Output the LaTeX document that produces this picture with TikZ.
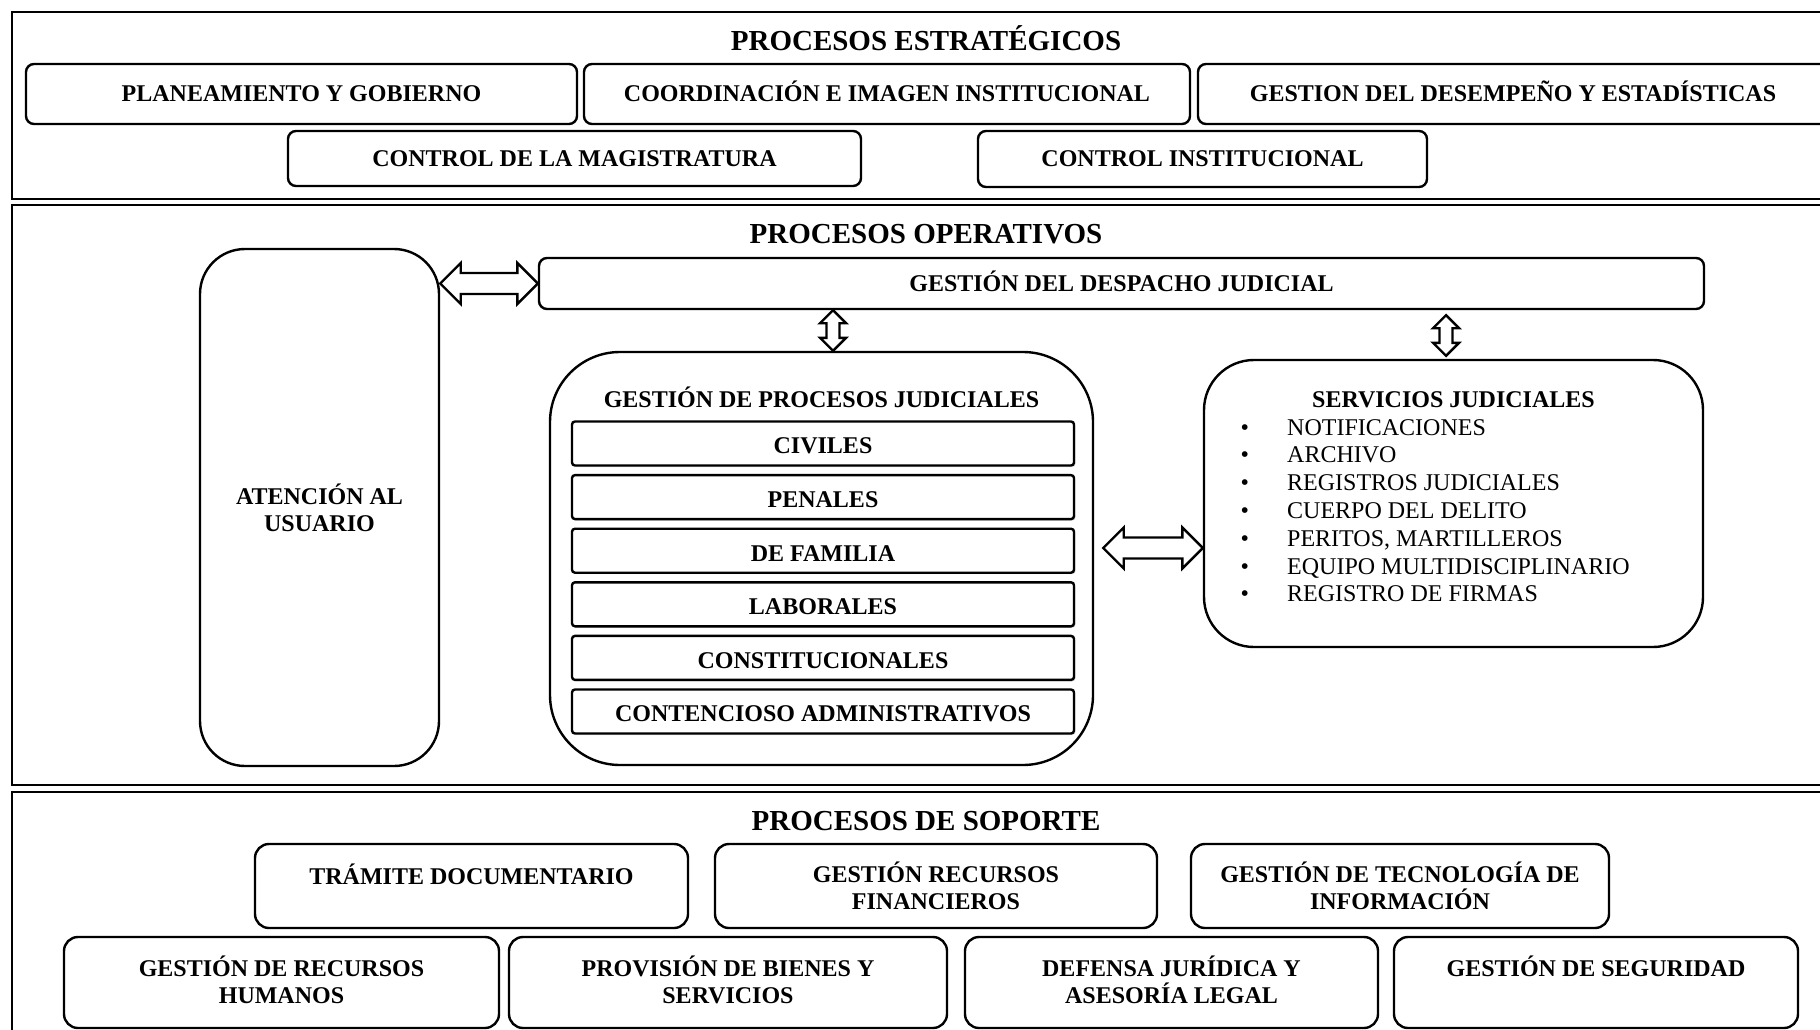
\documentclass[tikz,border=0pt]{standalone}
\usepackage{fontspec}
\setmainfont{Liberation Serif}
\usetikzlibrary{positioning,shadows,calc}

\newcommand{\fatarrow}[4]{%
  \draw [arrowline] let \p1=(#1), \p2=(#2), \n1={atan2(\y2-\y1,\x2-\x1)}, \n2={veclen(\x2-\x1,\y2-\y1)} in
    [shift={(\p1)}, rotate=\n1] (0,0) -- (#4,#4) -- (#4,#3) -- (\n2-#4,#3) -- (\n2-#4,#4) -- (\n2,0)
    -- (\n2-#4,-#4) -- (\n2-#4,-#3) -- (#4,-#3) -- (#4,-#4) -- cycle;}

\begin{document}
\begin{tikzpicture}[x=1pt,y=1pt]
	\tikzstyle{every node}+=[inner sep=0pt]
	\tikzstyle{frame}=[draw, line width=2.4pt]
	\tikzstyle{title}=[font=\fontsize{29}{34}\selectfont\bfseries, text height=19pt, text depth=0pt]
	\tikzstyle{boldtext}=[font=\fontsize{24}{27}\selectfont\bfseries]
	\tikzstyle{listtext}=[font=\fontsize{24}{27.8}\selectfont, align=left]
	\tikzstyle{box}=[draw, line width=2.4pt, rounded corners=8pt, align=center, font=\fontsize{24}{27}\selectfont\bfseries]
	\tikzstyle{oneline}=[text height=16pt, text depth=0pt]
	\tikzstyle{sbox}=[box, rounded corners=14pt]
	\tikzstyle{lowrow}=[sbox, minimum height=91pt, text depth=6pt]
	\tikzstyle{subbox}=[box, text height=20.6pt, text depth=0pt, rounded corners=3pt, fill=white, minimum width=502pt, minimum height=44pt,
		drop shadow={shadow xshift=1.5pt, shadow yshift=-1.5pt, opacity=0.25}]
	\tikzstyle{arrowline}=[draw, line width=2.4pt, fill=white, line join=miter]
	\clip (0,0) rectangle (1820,-1030);
	\draw [frame] (12,-12) rectangle (1840,-199);
	\draw [frame] (12,-205) rectangle (1840,-785);
	\draw [frame] (12,-792) rectangle (1840,-1045);
	\node [title] (estr) at (926,-41) {PROCESOS ESTRATÉGICOS};
	\node [box, oneline, minimum width=551pt, minimum height=60pt] (plan) at (301.5,-94) {PLANEAMIENTO Y GOBIERNO};
	\node [box, oneline, minimum width=606pt, minimum height=60pt] (coord) at (887,-94) {COORDINACIÓN E IMAGEN INSTITUCIONAL};
	\node [box, oneline, minimum width=630pt, minimum height=60pt] (desemp) at (1513,-94) {GESTION DEL DESEMPEÑO Y ESTADÍSTICAS};
	\node [box, oneline, minimum width=573pt, minimum height=55pt] (ctrlmag) at (574.5,-158.5) {CONTROL DE LA MAGISTRATURA};
	\node [box, oneline, minimum width=449pt, minimum height=56pt] (ctrlinst) at (1202.5,-159) {CONTROL INSTITUCIONAL};
	\node [title] (oper) at (926,-234) {PROCESOS OPERATIVOS};
	\node [box, rounded corners=45pt, minimum width=239pt, minimum height=517pt] (aten) at (319.5,-507.5) {ATENCIÓN AL\\USUARIO};
	\node [box, oneline, minimum width=1165pt, minimum height=51pt] (desp) at (1121.5,-283.5) {GESTIÓN DEL DESPACHO JUDICIAL};
	\node [box, rounded corners=70pt, minimum width=543pt, minimum height=413pt] (gpj) at (821.5,-558.5) {};
	\node [boldtext] (gpjtitle) at (821.5,-397) {GESTIÓN DE PROCESOS JUDICIALES};
	\node [subbox] (civ) at (823,-443.5) {CIVILES};
	\node [subbox, below=7.2pt of civ] (pen) {PENALES};
	\node [subbox, below=7.2pt of pen] (fam) {DE FAMILIA};
	\node [subbox, below=7.2pt of fam] (lab) {LABORALES};
	\node [subbox, below=7.2pt of lab] (const) {CONSTITUCIONALES};
	\node [subbox, below=7.2pt of const] (cont) {CONTENCIOSO ADMINISTRATIVOS};
	\node [box, rounded corners=50pt, minimum width=499pt, minimum height=287pt] (serv) at (1453.5,-503.5) {};
	\node [boldtext] (servtitle) at (1453.5,-400) {SERVICIOS JUDICIALES};
	\node [listtext, anchor=base west] (servlist) at (1240.5,-601.8) {%
		\makebox[46.5pt][l]{\textbullet}NOTIFICACIONES\\
		\makebox[46.5pt][l]{\textbullet}ARCHIVO\\
		\makebox[46.5pt][l]{\textbullet}REGISTROS JUDICIALES\\
		\makebox[46.5pt][l]{\textbullet}CUERPO DEL DELITO\\
		\makebox[46.5pt][l]{\textbullet}PERITOS, MARTILLEROS\\
		\makebox[46.5pt][l]{\textbullet}EQUIPO MULTIDISCIPLINARIO\\
		\makebox[46.5pt][l]{\textbullet}REGISTRO DE FIRMAS};
	\coordinate (a1) at (aten.east |- desp.west);
	\coordinate (a2) at (desp.west);
	\coordinate (b1) at ([xshift=11.5pt]gpj.north |- desp.south);
	\coordinate (b2) at ([xshift=11.5pt]gpj.north);
	\coordinate (c1) at ([xshift=-7.5pt,yshift=-5pt]serv.north |- desp.south);
	\coordinate (c2) at ([xshift=-7.5pt,yshift=3pt]serv.north);
	\coordinate (d1) at ([xshift=9pt,yshift=10.5pt]gpj.east);
	\coordinate (d2) at (serv.west |- d1);
	\fatarrow{a1}{a2}{10.5}{20.5}
	\fatarrow{b1}{b2}{6.5}{13}
	\fatarrow{c1}{c2}{6.5}{13}
	\fatarrow{d1}{d2}{10.5}{20.5}
	\node [title] (sop) at (926,-821) {PROCESOS DE SOPORTE};
	\node [sbox, minimum width=433pt, minimum height=84pt] (tram) at (471.5,-886) {TRÁMITE DOCUMENTARIO\\[-12pt]\strut};
	\node [sbox, minimum width=442pt, minimum height=84pt] (fin) at (936,-886) {GESTIÓN RECURSOS\\FINANCIEROS};
	\node [sbox, minimum width=418pt, minimum height=84pt] (tec) at (1400,-886) {GESTIÓN DE TECNOLOGÍA DE\\INFORMACIÓN};
	\node [lowrow, minimum width=435pt] (rrhh) at (281.5,-982.5) {GESTIÓN DE RECURSOS\\HUMANOS};
	\node [lowrow, minimum width=438pt] (prov) at (728,-982.5) {PROVISIÓN DE BIENES Y\\SERVICIOS};
	\node [lowrow, minimum width=413pt] (def) at (1171.5,-982.5) {DEFENSA JURÍDICA Y\\ASESORÍA LEGAL};
	\node [lowrow, minimum width=404pt] (seg) at (1596,-982.5) {GESTIÓN DE SEGURIDAD\\\strut};
\end{tikzpicture}
\end{document}
